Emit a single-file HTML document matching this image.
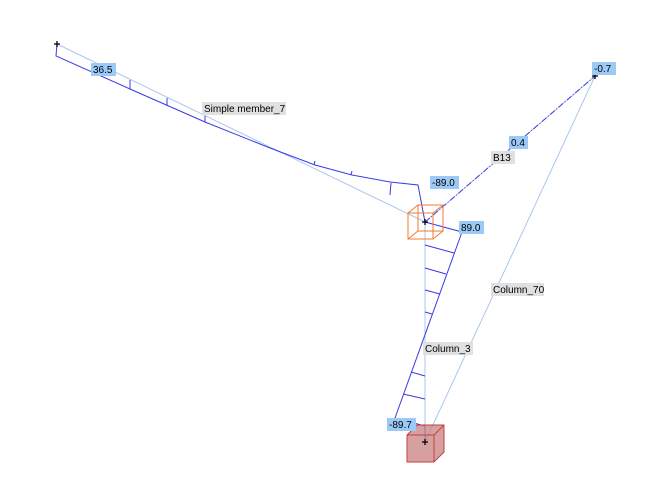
<!DOCTYPE html>
<html><head><style>
body{margin:0;background:#fff;width:658px;height:494px;overflow:hidden}
svg{position:absolute;left:0;top:0}
.lb{font-family:"Liberation Sans",sans-serif;font-size:10px}
</style></head><body>
<svg width="658" height="494" viewBox="0 0 658 494">
<g stroke="#a9c8f0" stroke-width="1" fill="none">
<line x1="57" y1="44" x2="425" y2="222"/>
<line x1="425" y1="222" x2="425" y2="442"/>
<line x1="425" y1="442" x2="595" y2="76"/>
<line x1="425" y1="222" x2="595" y2="76"/>
</g>
<g stroke="#3a3ae8" stroke-width="1" fill="none">
<polyline points="57,44 56,56 130,89 205,122 270,148 315,165 352,175 390,182 418,185 425,222"/>
<line x1="130" y1="80" x2="130" y2="89"/>
<line x1="167" y1="98" x2="167" y2="106"/>
<line x1="205" y1="116" x2="205" y2="122"/>
<line x1="315" y1="161" x2="314" y2="165"/>
<line x1="352" y1="171" x2="351" y2="175"/>
<line x1="391" y1="183" x2="390" y2="195"/>
<polyline points="425,222 462,232 395,418 425,426 425,442"/>
<line x1="425" y1="245" x2="454" y2="253"/>
<line x1="425" y1="268" x2="446" y2="274"/>
<line x1="425" y1="290" x2="440" y2="294"/>
<line x1="425" y1="312" x2="432" y2="314"/>
<line x1="425" y1="376" x2="411" y2="372"/>
<line x1="425" y1="399" x2="403" y2="394"/>
<line x1="425" y1="222" x2="595" y2="76" stroke-dasharray="6,2,1,2"/>
</g>
<g stroke="#f07a30" fill="none" stroke-width="1">
<rect x="408" y="213" width="25" height="26"/>
<rect x="418" y="205" width="25" height="26"/>
<line x1="408" y1="213" x2="418" y2="205"/><line x1="433" y1="213" x2="443" y2="205"/>
<line x1="408" y1="239" x2="418" y2="231"/><line x1="433" y1="239" x2="443" y2="231"/>
</g>
<g stroke="#c04040" stroke-width="1">
<polygon points="407,435 417,425 444,425 444,452 434,462 407,462" fill="#c98080" fill-opacity="0.75"/>
<polyline points="407,435 434,435 444,425" fill="none"/>
<line x1="434" y1="435" x2="434" y2="462"/>
</g>
<g stroke="#000" stroke-width="1.3">
<path d="M54 44h6M57 41v6M422 222h6M425 219v6M592 76h6M595 73v6M422 442h6M425 439v6"/>
</g>
<g class="lb">
<rect x="91" y="63" width="25" height="13" fill="#9ccaf7"/><text x="93" y="73">36.5</text>
<rect x="202" y="102" width="84" height="13" fill="#e0e0e0"/><text x="204" y="112">Simple member_7</text>
<rect x="430" y="176" width="29" height="13" fill="#9ccaf7"/><text x="432" y="186">-89.0</text>
<rect x="459" y="221" width="25" height="13" fill="#9ccaf7"/><text x="461" y="231">89.0</text>
<rect x="509" y="136" width="19" height="13" fill="#9ccaf7"/><text x="511" y="146">0.4</text>
<rect x="491" y="151" width="24" height="13" fill="#e0e0e0"/><text x="493" y="161">B13</text>
<rect x="592" y="62" width="24" height="13" fill="#9ccaf7"/><text x="594" y="72">-0.7</text>
<rect x="491" y="283" width="53" height="13" fill="#e0e0e0"/><text x="493" y="293">Column_70</text>
<rect x="423" y="342" width="50" height="13" fill="#e0e0e0"/><text x="425" y="352">Column_3</text>
<rect x="387" y="418" width="29" height="13" fill="#9ccaf7"/><text x="389" y="428">-89.7</text>
</g>
</svg>
</body></html>
